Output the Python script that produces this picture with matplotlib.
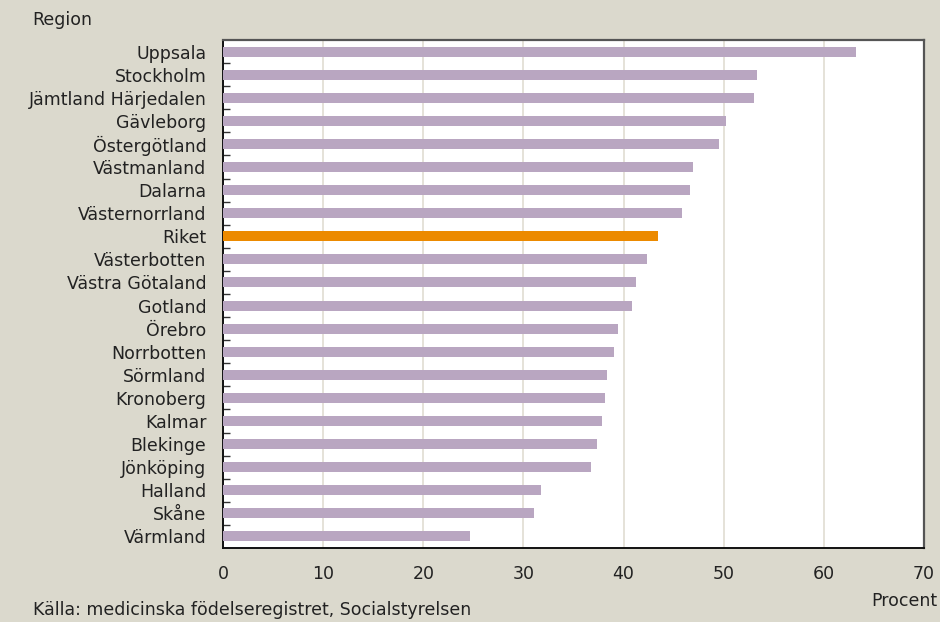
import matplotlib
matplotlib.use("Agg")
import matplotlib.pyplot as plt
import numpy as np

# Data, top to bottom
regioner = ["Uppsala", "Stockholm", "Jämtland Härjedalen", "Gävleborg",
            "Östergötland", "Västmanland", "Dalarna", "Västernorrland",
            "Riket", "Västerbotten", "Västra Götaland", "Gotland", "Örebro",
            "Norrbotten", "Sörmland", "Kronoberg", "Kalmar", "Blekinge",
            "Jönköping", "Halland", "Skåne", "Värmland"]
procent = [63.2, 53.3, 53.0, 50.2, 49.5, 46.9, 46.6, 45.8, 43.4, 42.3,
           41.2, 40.8, 39.4, 39.0, 38.3, 38.1, 37.8, 37.3, 36.7, 31.8,
           31.1, 24.7]
x_ticks = [0, 10, 20, 30, 40, 50, 60, 70]

BG = "#dbd9cd"
LILA = "#b9a6c1"
ORANGE = "#ec8a00"
FS = 12.5

plt.rcParams["font.family"] = ["DejaVu Sans"]

fig = plt.figure(figsize=(9.4, 6.22), dpi=100, facecolor=BG)
ax = fig.add_axes([223 / 940, 1 - 548 / 622, 701 / 940, 508 / 622])
ax.set_facecolor("white")

y = np.arange(len(regioner))
farger = [ORANGE if r == "Riket" else LILA for r in regioner]
ax.barh(y, procent, height=0.43, color=farger, zorder=3)

ax.set_xlim(0, 70)
ax.set_ylim(len(regioner) - 0.5, -0.5)
ax.set_xticks(x_ticks)
ax.set_xticklabels([str(t) for t in x_ticks], fontsize=FS, color="#222222")
ax.set_yticks(y)
ax.set_yticklabels(regioner, fontsize=FS, color="#222222")
ax.tick_params(axis="y", length=0, pad=12)
ax.tick_params(axis="x", length=0, pad=12)
# små streck mellan kategorierna
ax.set_yticks(np.arange(len(regioner) - 1) + 0.5, minor=True)
ax.tick_params(axis="y", which="minor", direction="in", length=5, width=1, color="#333333")

ax.grid(axis="x", color="#e0ddd2", linewidth=1.2, zorder=0)
for side in ["left", "bottom"]:
    ax.spines[side].set_color("#111111")
    ax.spines[side].set_linewidth(1.4)
for side in ["top", "right"]:
    ax.spines[side].set_color("#555555")
    ax.spines[side].set_linewidth(1.6)

fig.text(32 / 940, 1 - 20 / 622, "Region", fontsize=FS, color="#222222", va="center")
fig.text(937 / 940, 1 - 601 / 622, "Procent", fontsize=FS, color="#222222",
         ha="right", va="center")
fig.text(33 / 940, 1 - 610 / 622, "Källa: medicinska födelseregistret, Socialstyrelsen",
         fontsize=FS, color="#222222", va="center")

fig.savefig("out.png", dpi=100, facecolor=BG)
